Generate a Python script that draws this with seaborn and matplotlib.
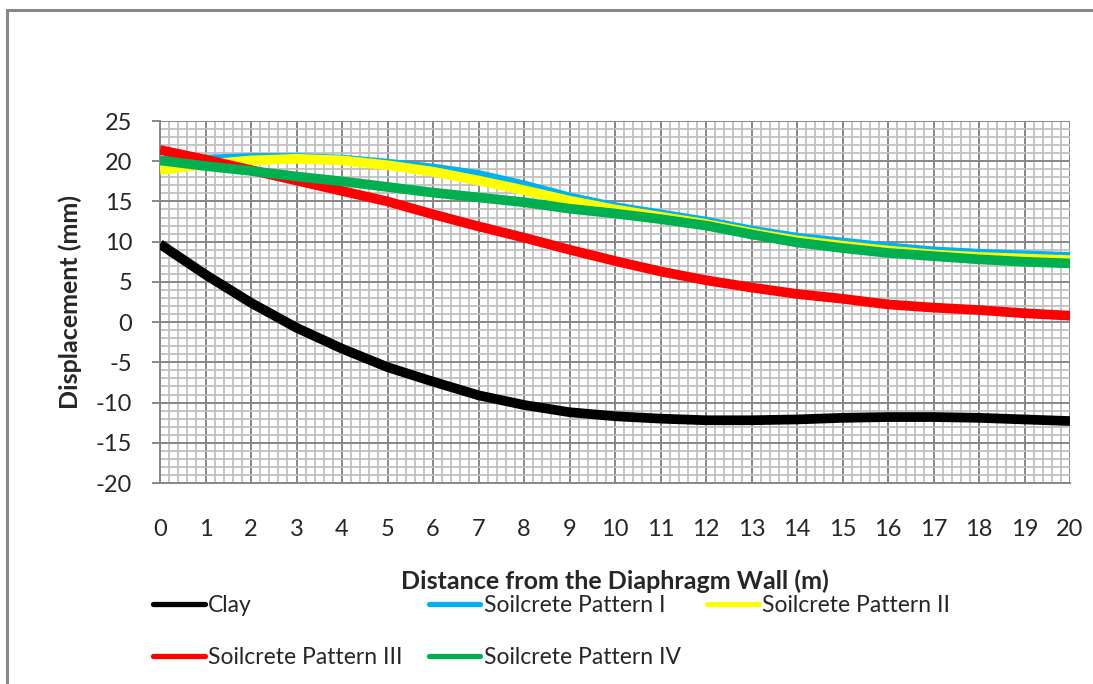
import numpy as np
import pandas as pd
import matplotlib
matplotlib.use("Agg")
import matplotlib.pyplot as plt
from matplotlib.lines import Line2D
from matplotlib.ticker import MultipleLocator
import seaborn as sns

# Distance from the diaphragm wall (m)
distance = list(range(0, 21))

# Surface displacement (mm) for each ground condition
clay = [9.7, 5.9, 2.4, -0.7, -3.3, -5.6, -7.4, -9.1, -10.3, -11.2, -11.7,
        -12.0, -12.2, -12.2, -12.1, -11.9, -11.8, -11.8, -11.9, -12.1, -12.3]
pattern_1 = [20.0, 20.2, 20.4, 20.4, 20.2, 19.7, 19.1, 18.3, 17.0, 15.5, 14.3,
             13.4, 12.5, 11.4, 10.5, 9.9, 9.3, 8.8, 8.5, 8.3, 8.1]
pattern_2 = [18.9, 19.6, 20.1, 20.3, 20.1, 19.5, 18.7, 17.6, 16.4, 15.1, 14.0,
             13.1, 12.2, 11.1, 10.15, 9.5, 8.9, 8.4, 8.1, 7.9, 7.7]
pattern_3 = [21.4, 20.2, 18.9, 17.6, 16.3, 15.0, 13.4, 11.9, 10.5, 9.0, 7.6,
             6.3, 5.2, 4.3, 3.5, 2.9, 2.2, 1.8, 1.5, 1.1, 0.8]
pattern_4 = [20.1, 19.4, 18.8, 18.1, 17.5, 16.8, 16.1, 15.5, 14.9, 14.1, 13.5,
             12.8, 12.0, 10.9, 9.9, 9.2, 8.6, 8.2, 7.8, 7.5, 7.3]

series_names = ["Clay", "Soilcrete Pattern I", "Soilcrete Pattern II",
                "Soilcrete Pattern III", "Soilcrete Pattern IV"]
series_values = [clay, pattern_1, pattern_2, pattern_3, pattern_4]
series_colors = ["#000000", "#00B0F0", "#FFFF00", "#FF0000", "#00B050"]

frames = []
for name, vals in zip(series_names, series_values):
    frames.append(pd.DataFrame({"Distance": distance, "Displacement": vals,
                                "Series": name}))
df = pd.concat(frames, ignore_index=True)

sns.set_theme(style="white")
plt.rcParams["font.family"] = ["Lato", "DejaVu Sans"]
plt.rcParams["axes.unicode_minus"] = False

W, H = 1093, 684
fig = plt.figure(figsize=(W / 100, H / 100), dpi=100)
ax = fig.add_axes([160 / W, 1 - 483 / H, (1070 - 160) / W, (483 - 121) / H])

sns.lineplot(data=df, x="Distance", y="Displacement", hue="Series",
             hue_order=series_names, palette=series_colors, linewidth=7,
             legend=False, ax=ax, zorder=3)
for line in ax.get_lines():
    line.set_solid_capstyle("butt")

ax.set_xlim(0, 20)
ax.set_ylim(-20, 25)
ax.xaxis.set_major_locator(MultipleLocator(1))
ax.xaxis.set_minor_locator(MultipleLocator(0.2))
ax.yaxis.set_major_locator(MultipleLocator(5))
ax.yaxis.set_minor_locator(MultipleLocator(1))

ax.grid(which="minor", color="#c0c0c0", linewidth=1.3, zorder=0)
ax.grid(which="major", color="#878787", linewidth=1.4, zorder=1)
ax.set_axisbelow(True)

for side in ["top", "right"]:
    ax.spines[side].set_visible(False)
ax.spines["left"].set_color("#878787")
ax.spines["bottom"].set_color("#878787")
ax.spines["left"].set_linewidth(1.4)
ax.spines["bottom"].set_linewidth(1.4)

ax.tick_params(axis="y", which="major", direction="out", length=6, width=1.4,
               color="#878787", labelsize=17, pad=14, left=True)
ax.tick_params(axis="y", which="minor", length=0)
ax.tick_params(axis="x", which="both", length=0, labelsize=17, pad=26)

ax.set_xlabel("Distance from the Diaphragm Wall (m)", fontsize=18,
              fontweight="bold", labelpad=21)
ax.set_ylabel("Displacement (mm)", fontsize=18, fontweight="bold",
              labelpad=10)

# Legend laid out in three columns, two rows
handles = [Line2D([], [], color=c, linewidth=3.8) for c in series_colors]
order = [0, 3, 1, 4, 2]
fig.legend([handles[i] for i in order], [series_names[i] for i in order],
           loc="upper left", bbox_to_anchor=(153 / W, 1 - 595 / H),
           ncol=3, frameon=False, fontsize=16.5, handlelength=2.25,
           handletextpad=0.15, columnspacing=1.15, labelspacing=1.35,
           borderaxespad=0, borderpad=0)

# Chart-area border
border_kw = dict(color="#888888", linewidth=2.2, transform=fig.transFigure)
fig.add_artist(Line2D([7 / W, 7 / W], [0, 1 - 9.5 / H], **border_kw))
fig.add_artist(Line2D([7 / W, 1], [1 - 9.5 / H, 1 - 9.5 / H], **border_kw))

fig.savefig("out.png", dpi=100, facecolor="white")
